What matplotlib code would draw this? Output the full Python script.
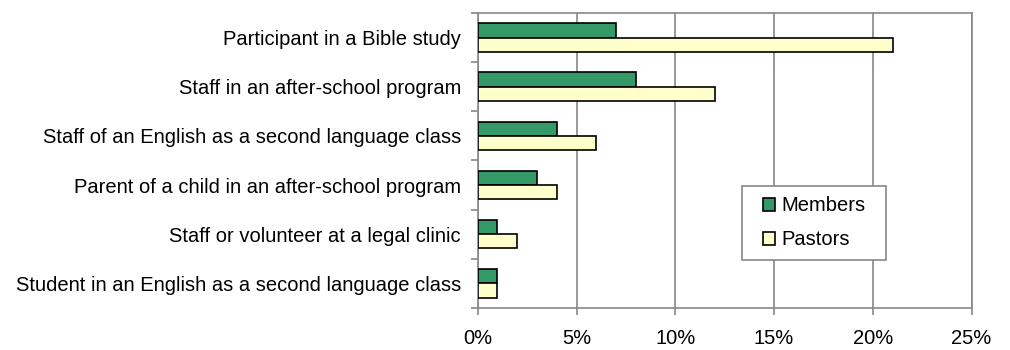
import matplotlib.pyplot as plt
import numpy as np
from matplotlib.ticker import FuncFormatter
from matplotlib.patches import Rectangle

plt.rcParams['font.family'] = ['Liberation Sans', 'DejaVu Sans']

# Survey data (percent)
roles = ["Participant in a Bible study",
         "Staff in an after-school program",
         "Staff of an English as a second language class",
         "Parent of a child in an after-school program",
         "Staff or volunteer at a legal clinic",
         "Student in an English as a second language class"]
members = [7, 8, 4, 3, 1, 1]
pastors = [21, 12, 6, 4, 2, 1]

fs = 14.5
fig = plt.figure(figsize=(10.1, 3.5), dpi=100)
ax = fig.add_axes([0.473, 0.12, 0.489, 0.843])

y = np.arange(len(roles))
h = 0.29
ax.barh(y - h/2, members, height=h, color="#339966", edgecolor="black", linewidth=1.2, label="Members", zorder=3)
ax.barh(y + h/2, pastors, height=h, color="#FFFFCC", edgecolor="black", linewidth=1.2, label="Pastors", zorder=3)

ax.set_xlim(0, 25)
ax.set_ylim(len(roles) - 0.5, -0.5)
ax.set_xticks(np.arange(0, 26, 5))
ax.xaxis.set_major_formatter(FuncFormatter(lambda v, p: "%d%%" % v))
ax.set_yticks(y)
ax.set_yticklabels(roles)
ax.set_yticks(np.arange(-0.5, len(roles)), minor=True)

ax.grid(axis="x", color="#888888", linewidth=1.2, zorder=0)
for s in ax.spines.values():
    s.set_color("#888888")
    s.set_linewidth(1.2)
ax.tick_params(axis="y", which="major", length=0, labelsize=fs, pad=12)
ax.tick_params(axis="y", which="minor", length=5, color="#888888", width=1.2)
ax.tick_params(axis="x", length=5, color="#888888", width=1.2, labelsize=fs, pad=10)

# legend box drawn separately so the entries sit centred inside it
box = Rectangle((0.536, 0.163), 0.29, 0.251, transform=ax.transAxes, facecolor="white",
                edgecolor="#888888", linewidth=1.2, zorder=4)
ax.add_patch(box)
leg = ax.legend(loc="center", bbox_to_anchor=(0.536 + 0.145, 0.163 + 0.1255), frameon=False,
                fontsize=fs, handlelength=0.6, handleheight=0.6, handletextpad=0.3,
                borderpad=0, labelspacing=0.75)
leg.set_zorder(5)

fig.savefig("out.png", dpi=100)
